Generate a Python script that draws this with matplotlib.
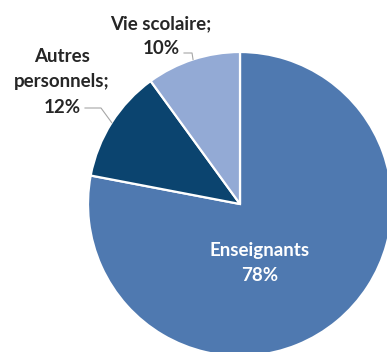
import numpy as np
import matplotlib
matplotlib.use("Agg")
import matplotlib.pyplot as plt

# staff breakdown
labels = ["Enseignants", "Autres personnels", "Vie scolaire"]
shares = [78, 12, 10]
colors = ["#4f79b0", "#0b446f", "#93aad5"]

W, H = 387, 352
fig = plt.figure(figsize=(W / 100, H / 100), dpi=100)
ax = fig.add_axes([0, 0, 1, 1])

cx, cy, r = 240, H - 204, 152
wedges, _ = ax.pie(shares, colors=colors, startangle=90, counterclock=False,
                   center=(cx, cy), radius=r,
                   wedgeprops=dict(edgecolor="white", linewidth=1.6))
ax.set_xlim(0, W)
ax.set_ylim(0, H)
ax.set_aspect("equal")
ax.axis("off")

font = dict(family=["Lato", "DejaVu Sans"], fontweight="bold", fontsize=13.5)
dark = "#262626"


def arc_point(w):
    mid = np.deg2rad((w.theta1 + w.theta2) / 2)
    return cx + r * np.cos(mid), cy + r * np.sin(mid)


# inside label for the big slice
ax.text(260, H - 263, f"{labels[0]}\n{shares[0]}%", color="white",
        ha="center", va="center", linespacing=1.6, **font)

# outside labels with leader lines
ax.text(161, H - 36, f"{labels[2]};\n{shares[2]}%", color=dark,
        ha="center", va="center", linespacing=1.6, **font)
px, py = arc_point(wedges[2])
ax.plot([184, px - 1, px], [H - 53, H - 53, py], color="#a6a6a6", lw=0.8)

ax.text(62, H - 82, "Autres\npersonnels;\n" + f"{shares[1]}%", color=dark,
        ha="center", va="center", linespacing=1.6, **font)
px, py = arc_point(wedges[1])
ax.plot([85, 101, px], [H - 108, H - 108, py], color="#a6a6a6", lw=0.8)

fig.savefig("out.png", dpi=100)
